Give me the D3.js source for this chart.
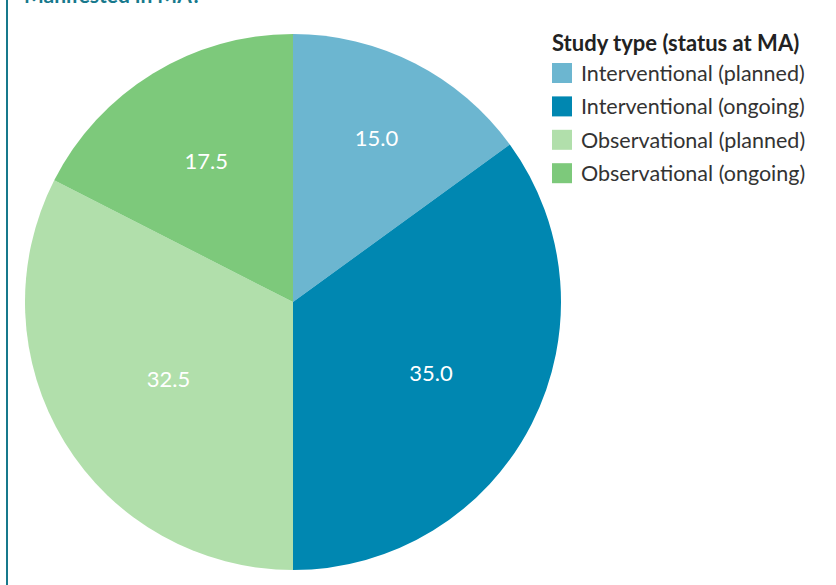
<!DOCTYPE html>
<html>
<head>
<meta charset="utf-8">
<script src="https://cdn.jsdelivr.net/npm/d3@7"></script>
<style>
  html, body { margin: 0; padding: 0; background: #ffffff; }
  svg { display: block; font-family: Lato, "Open Sans", sans-serif; }
</style>
</head>
<body>
<svg id="chart" width="836" height="585"></svg>
<script>
// Share of studies by type and status at marketing authorisation (%)
const categories = [
  "Interventional (planned)",
  "Interventional (ongoing)",
  "Observational (planned)",
  "Observational (ongoing)"
];
const shares = [15.0, 35.0, 32.5, 17.5];
const sliceColors = ["#6cb6d0", "#0087b1", "#b1dfab", "#7dc97b"];
const legendTitle = "Study type (status at MA)";
const chartTitle = "Manifested in MA?";

// Label distance from the centre for each slice, as a fraction of the radius
const labelRadiusFrac = [0.687, 0.578, 0.545, 0.619];

const svg = d3.select("#chart");
const W = 836, H = 585;

// Frame line on the left and clipped panel heading
svg.append("line")
  .attr("x1", 7).attr("x2", 7).attr("y1", 0).attr("y2", H)
  .attr("stroke", "#17798c").attr("stroke-width", 2);

svg.append("text")
  .attr("x", 24).attr("y", 3)
  .attr("fill", "#17798c")
  .attr("font-weight", 700)
  .attr("font-size", 21)
  .text(chartTitle);

// Pie
const cx = 293, cy = 302, R = 268;
const data = categories.map((c, i) => ({ cat: c, value: shares[i] }));
const color = d3.scaleOrdinal().domain(categories).range(sliceColors);

const pie = d3.pie().value(d => d.value).sort(null);
const arc = d3.arc().innerRadius(0).outerRadius(R);

const g = svg.append("g").attr("transform", `translate(${cx},${cy})`);
const arcs = pie(data);

g.selectAll("path.slice")
  .data(arcs)
  .join("path")
  .attr("class", "slice")
  .attr("d", arc)
  .attr("fill", d => color(d.data.cat));

g.selectAll("text.val")
  .data(arcs)
  .join("text")
  .attr("class", "val")
  .attr("transform", (d, i) => {
    const r = R * labelRadiusFrac[i];
    const la = d3.arc().innerRadius(r).outerRadius(r);
    return `translate(${la.centroid(d)})`;
  })
  .attr("text-anchor", "middle")
  .attr("dominant-baseline", "central")
  .attr("fill", "#ffffff")
  .attr("font-size", 22)
  .text(d => d3.format(".1f")(d.data.value));

// Legend
const lg = svg.append("g").attr("transform", "translate(552,0)");
lg.append("text")
  .attr("x", 0).attr("y", 51)
  .attr("font-weight", 700)
  .attr("font-size", 22)
  .attr("fill", "#222")
  .text(legendTitle);

const rows = lg.selectAll("g.row")
  .data(categories)
  .join("g")
  .attr("class", "row")
  .attr("transform", (d, i) => `translate(0,${73 + i * 33.4})`);

rows.append("rect")
  .attr("x", 0).attr("y", -10)
  .attr("width", 20).attr("height", 20)
  .attr("fill", d => color(d));

rows.append("text")
  .attr("x", 29).attr("y", 0)
  .attr("dominant-baseline", "central")
  .attr("font-size", 21.5)
  .attr("fill", "#333")
  .text(d => d);
</script>
</body>
</html>
